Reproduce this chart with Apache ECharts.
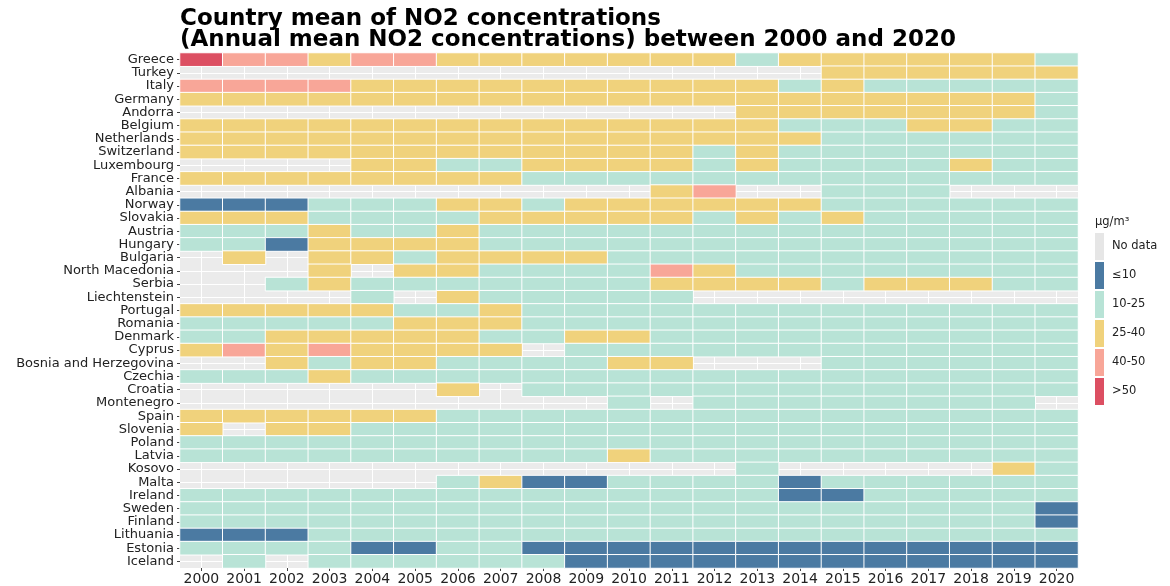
<!DOCTYPE html>
<html>
<head>
<meta charset="utf-8">
<script src="https://cdn.jsdelivr.net/npm/echarts@6/dist/echarts.min.js"></script>
<style>
  html, body { margin: 0; background: #fff; }
  #chart { width: 1170px; height: 586px; }
</style>
</head>
<body>
<div id="chart"></div>
<script>
const years = ["2000", "2001", "2002", "2003", "2004", "2005", "2006", "2007", "2008", "2009", "2010",
  "2011", "2012", "2013", "2014", "2015", "2016", "2017", "2018", "2019", "2020"];

const countries = ["Greece", "Turkey", "Italy", "Germany", "Andorra", "Belgium", "Netherlands",
  "Switzerland", "Luxembourg", "France", "Albania", "Norway", "Slovakia", "Austria", "Hungary",
  "Bulgaria", "North Macedonia", "Serbia", "Liechtenstein", "Portugal", "Romania", "Denmark",
  "Cyprus", "Bosnia and Herzegovina", "Czechia", "Croatia", "Montenegro", "Spain", "Slovenia",
  "Poland", "Latvia", "Kosovo", "Malta", "Ireland", "Sweden", "Finland", "Lithuania", "Estonia",
  "Iceland"];

// one letter per year (2000..2020), same order as countries
// N = no data, B = <=10, G = 10-25, Y = 25-40, P = 40-50, R = >50
const levelCodes = [
  "RPPYPPYYYYYYYGYYYYYYG", // Greece
  "NNNNNNNNNNNNNNNYYYYYY", // Turkey
  "PPPPYYYYYYYYYYGYGGGGG", // Italy
  "YYYYYYYYYYYYYYYYYYYYG", // Germany
  "NNNNNNNNNNNNNYYYYYYYG", // Andorra
  "YYYYYYYYYYYYYYGGGYYGG", // Belgium
  "YYYYYYYYYYYYYYYGGGGGG", // Netherlands
  "YYYYYYYYYYYYGYGGGGGGG", // Switzerland
  "NNNNYYGGYYYYGYGGGGYGG", // Luxembourg
  "YYYYYYYYGGGGGGGGGGGGG", // France
  "NNNNNNNNNNNYPNNGGGNNN", // Albania
  "BBBGGGYYGYYYYYYGGGGGG", // Norway
  "YYYGGGGYYYYYGYGYGGGGG", // Slovakia
  "GGGYGGYGGGGGGGGGGGGGG", // Austria
  "GGBYYYYGGGGGGGGGGGGGG", // Hungary
  "NYNYYGYYYYGGGGGGGGGGG", // Bulgaria
  "NNNYNYYGGGGPYGGGGGGGG", // North Macedonia
  "NNGYGGGGGGGYYYYGYYYGG", // Serbia
  "NNNNGNYGGGGGNNNNNNNNN", // Liechtenstein
  "YYYYYGGYGGGGGGGGGGGGG", // Portugal
  "GGGGGYYYGGGGGGGGGGGGG", // Romania
  "GGYYYYYGGYYGGGGGGGGGG", // Denmark
  "YPYPYYYYNGGGGGGGGGGGG", // Cyprus
  "NNYGYYGGGGYYNNNGGGGGG", // Bosnia and Herzegovina
  "GGGYGGGGGGGGGGGGGGGGG", // Czechia
  "NNNNNNYNGGGGGGGGGGGGG", // Croatia
  "NNNNNNNNNNGNGGGGGGGGN", // Montenegro
  "YYYYYYGGGGGGGGGGGGGGG", // Spain
  "YNYYGGGGGGGGGGGGGGGGG", // Slovenia
  "GGGGGGGGGGGGGGGGGGGGG", // Poland
  "GGGGGGGGGGYGGGGGGGGGG", // Latvia
  "NNNNNNNNNNNNNGNNNNNYG", // Kosovo
  "NNNNNNGYBBGGGGBGGGGGG", // Malta
  "GGGGGGGGGGGGGGBBGGGGG", // Ireland
  "GGGGGGGGGGGGGGGGGGGGB", // Sweden
  "GGGGGGGGGGGGGGGGGGGGB", // Finland
  "BBBGGGGGGGGGGGGGGGGGG", // Lithuania
  "GGGGBBGGBBBBBBBBBBBBB", // Estonia
  "NGNGGGGGGBBBBBBBBBBBB"  // Iceland
];

const levelKeys = ["N", "B", "G", "Y", "P", "R"];
const levelLabels = ["No data", "\u226410", "10-25", "25-40", "40-50", ">50"];
const levelColors = ["#e6e6e6", "#4b7aa2", "#b8e3d6", "#f0d27c", "#f8a698", "#dc4f62"];

// no-data cells are left out so the grey panel shows through
const cells = [];
countries.forEach(function (country, row) {
  levelCodes[row].split("").forEach(function (code, col) {
    const level = levelKeys.indexOf(code);
    if (level > 0) cells.push([col, row, level]);
  });
});

// hidden half-step axes, only used to put white grid lines through cell centres (ggplot style)
const halfYears = years.flatMap(function (y) { return [y + "a", y + "b"]; });
const halfCountries = countries.flatMap(function (c) { return [c + "a", c + "b"]; });
const centreOnly = function (idx) { return idx % 2 === 1; };

const hiddenAxis = function (data) {
  return {
    type: "category",
    data: data,
    axisLine: { show: false },
    axisTick: { show: false },
    axisLabel: { show: false },
    splitLine: { show: true, interval: centreOnly, lineStyle: { color: "#fff", width: 1 } }
  };
};

const chart = echarts.init(document.getElementById("chart"));

const option = {
  backgroundColor: "#fff",
  animation: false,
  textStyle: { fontFamily: "DejaVu Sans" },
  title: [
    {
      text: "Country mean of NO2 concentrations\n(Annual mean NO2 concentrations) between 2000 and 2020",
      left: 180,
      top: 9,
      padding: 0,
      textStyle: { fontSize: 23, fontWeight: "bold", color: "#000", lineHeight: 21, fontFamily: "DejaVu Sans" }
    },
    {
      text: "\u03bcg/m\u00b3",
      left: 1095,
      top: 216,
      padding: 0,
      textStyle: { fontSize: 11.5, fontWeight: "normal", color: "#222", fontFamily: "DejaVu Sans" }
    }
  ],
  grid: {
    left: 180,
    right: 92,
    top: 53,
    bottom: 18,
    show: true,
    backgroundColor: "#ebebeb",
    borderWidth: 0
  },
  xAxis: [
    {
      type: "category",
      data: years,
      axisLine: { show: false },
      axisTick: { show: true, length: 3, alignWithLabel: true, lineStyle: { color: "#444" } },
      axisLabel: { interval: 0, fontSize: 14, color: "#222", margin: 4 },
      splitLine: { show: false }
    },
    Object.assign(hiddenAxis(halfYears), { position: "top" })
  ],
  yAxis: [
    {
      type: "category",
      data: countries,
      inverse: true,
      axisLine: { show: false },
      axisTick: { show: true, length: 3, alignWithLabel: true, lineStyle: { color: "#444" } },
      axisLabel: { interval: 0, fontSize: 13, color: "#222", margin: 6 },
      splitLine: { show: false }
    },
    Object.assign(hiddenAxis(halfCountries), { position: "right" })
  ],
  visualMap: {
    type: "piecewise",
    dimension: 2,
    seriesIndex: 0,
    orient: "vertical",
    inverse: true,
    align: "left",
    left: 1095,
    top: 233,
    padding: 0,
    itemWidth: 9,
    itemHeight: 27,
    itemGap: 2,
    itemSymbol: "rect",
    textGap: 8,
    selectedMode: false,
    textStyle: { fontSize: 11.5, color: "#222" },
    pieces: levelLabels.map(function (label, i) {
      return { value: i, label: label, color: levelColors[i] };
    })
  },
  series: [
    {
      type: "heatmap",
      xAxisIndex: 0,
      yAxisIndex: 0,
      data: cells,
      itemStyle: { borderColor: "#fff", borderWidth: 1 },
      emphasis: { disabled: true }
    }
  ]
};

chart.setOption(option);
</script>
</body>
</html>
